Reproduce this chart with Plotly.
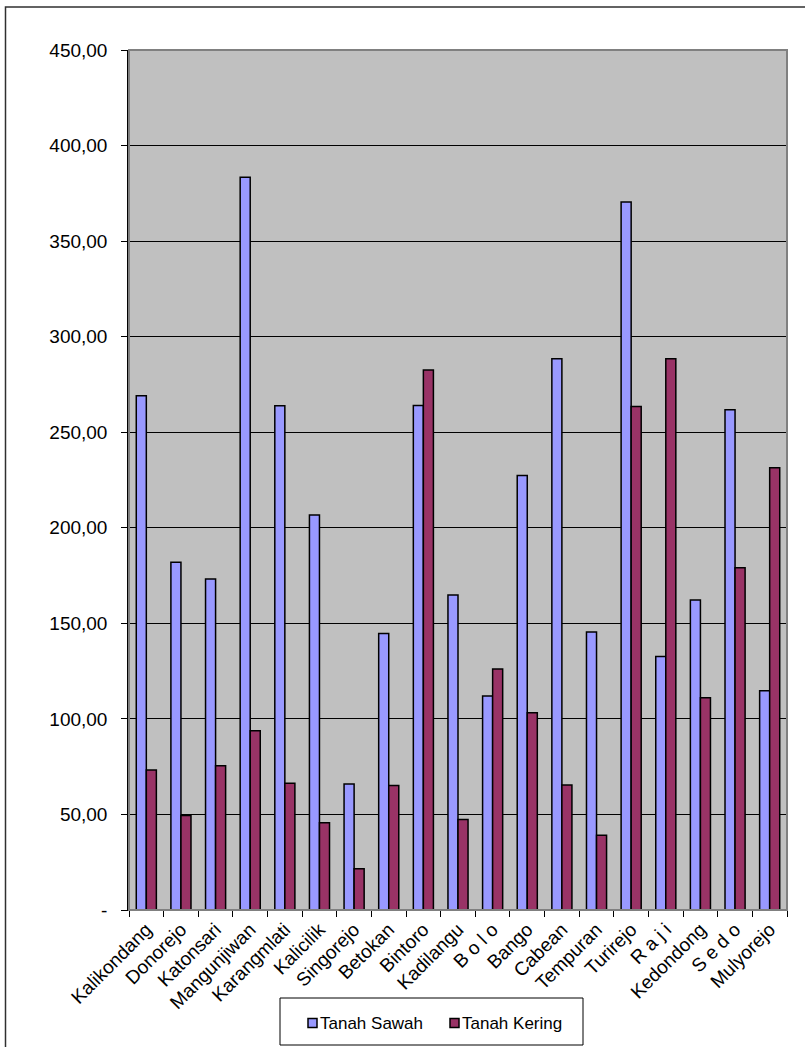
import plotly.graph_objects as go

categories = ["Kalikondang", "Donorejo", "Katonsari", "Mangunjiwan", "Karangmlati",
              "Kalicilik", "Singorejo", "Betokan", "Bintoro", "Kadilangu", "B o l o",
              "Bango", "Cabean", "Tempuran", "Turirejo", "R a j i", "Kedondong",
              "S e d o", "Mulyorejo"]
series_names = ["Tanah Sawah", "Tanah Kering"]
tanah_sawah = [269.1, 181.9, 173.2, 383.4, 263.9, 206.7, 65.9, 144.7, 264.0, 164.8,
               112.0, 227.3, 288.5, 145.5, 370.5, 132.7, 162.2, 261.8, 114.7]
tanah_kering = [73.3, 49.4, 75.5, 93.8, 66.3, 45.7, 21.6, 65.2, 282.6, 47.4,
                126.1, 103.2, 65.4, 39.1, 263.4, 288.5, 111.1, 179.1, 231.4]
y_tickvals = [0, 50, 100, 150, 200, 250, 300, 350, 400, 450]
y_ticktext = ["-", "50,00", "100,00", "150,00", "200,00", "250,00", "300,00",
              "350,00", "400,00", "450,00"]
colors = ["#9999FF", "#993366"]

FONT = "Liberation Sans, Arial, sans-serif"

fig = go.Figure()
for name, vals, col in zip(series_names, [tanah_sawah, tanah_kering], colors):
    fig.add_trace(go.Bar(name=name, x=categories, y=vals,
                         marker=dict(color=col, line=dict(color="black", width=1.5))))

L, R, T, B = 129, 18, 50, 137
W, H = 805, 1047
pw, ph = W - L - R, H - T - B

def px2x(px):
    return (px - L) / pw

def py2y(py):
    return (H - B - py) / ph

shapes = [
    # plot area border
    dict(type="rect", xref="paper", yref="paper", x0=0, x1=1, y0=0, y1=1,
         line=dict(color="#808080", width=2), layer="above"),
    # outer chart frame
    dict(type="rect", xref="paper", yref="paper",
         x0=px2x(5.5), x1=px2x(815), y0=py2y(1060), y1=py2y(7),
         line=dict(color="#303030", width=1.5), layer="above"),
    # legend box
    dict(type="rect", xref="paper", yref="paper",
         x0=px2x(280), x1=px2x(583), y0=py2y(1045), y1=py2y(998),
         line=dict(color="black", width=1), fillcolor="white", layer="above"),
]
annotations = []
legend_marker_x = [308, 450]
for name, col, mx in zip(series_names, colors, legend_marker_x):
    shapes.append(dict(type="rect", xref="paper", yref="paper",
                       x0=px2x(mx), x1=px2x(mx + 9), y0=py2y(1027.5), y1=py2y(1018.5),
                       line=dict(color="black", width=1.5), fillcolor=col, layer="above"))
    annotations.append(dict(text=name, xref="paper", yref="paper",
                            x=px2x(mx + 10), y=py2y(1023), xanchor="left", yanchor="middle",
                            showarrow=False,
                            font=dict(family=FONT, size=17, color="black")))

fig.update_layout(
    width=W, height=H,
    margin=dict(l=L, r=R, t=T, b=B, pad=0),
    paper_bgcolor="white",
    plot_bgcolor="#C0C0C0",
    barmode="group",
    bargap=0.42,
    bargroupgap=0,
    font=dict(family=FONT, size=19, color="black"),
    showlegend=False,
    xaxis=dict(
        type="category",
        tickson="boundaries",
        ticks="outside", ticklen=6, tickcolor="black", tickwidth=1,
        tickangle=-45,
        showline=True, linecolor="black", linewidth=1,
        showgrid=False,
        tickfont=dict(family=FONT, size=19, color="black"),
    ),
    yaxis=dict(
        range=[0, 450],
        tickvals=y_tickvals, ticktext=y_ticktext,
        ticks="outside", ticklen=6, tickcolor="black", tickwidth=1,
        ticklabelstandoff=10,
        showline=True, linecolor="black", linewidth=1.5,
        showgrid=True, gridcolor="black", gridwidth=1,
        zeroline=False,
        tickfont=dict(family=FONT, size=19, color="black"),
    ),
    shapes=shapes,
    annotations=annotations,
)

fig.write_html("out.html", config={"displayModeBar": False},
               post_script="document.body.style.margin='0px';document.body.style.overflow='hidden';")
